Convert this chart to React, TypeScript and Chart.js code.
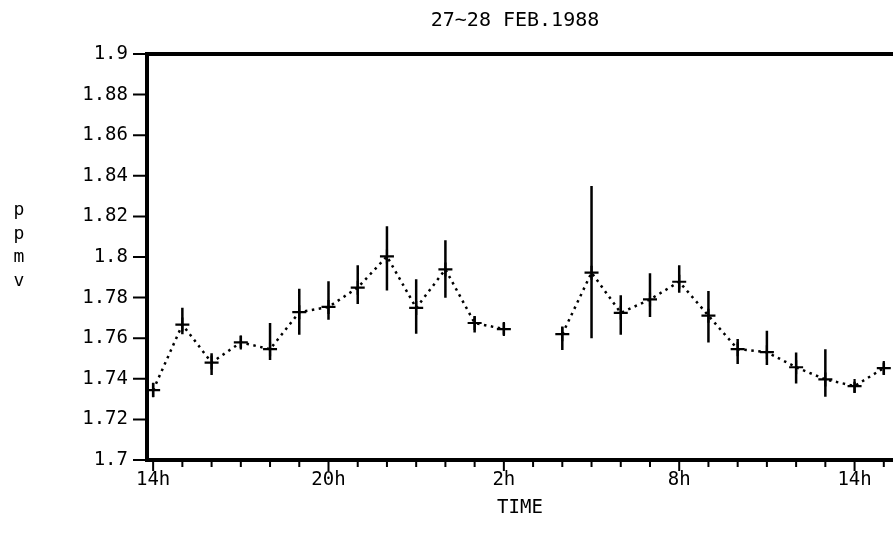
import React, { useEffect, useRef } from "react";
import { Chart, registerables } from "chart.js";

Chart.register(...registerables);

// ---- data ----
const chartTitle = "27~28 FEB.1988";
const xAxisTitle = "TIME";
const yAxisTitle = "ppmv";

// hours elapsed since 14h on 27 Feb
const hours = [0, 1, 2, 3, 4, 5, 6, 7, 8, 9, 10, 11, 12, 13, 14, 15, 16, 17, 18, 19, 20, 21, 22, 23, 24, 25];
const values: (number | null)[] = [
  1.7344, 1.7667, 1.748, 1.7579, 1.7546, 1.7728, 1.7754, 1.7849, 1.8003, 1.7749, 1.7939, 1.7675, 1.7645,
  null,
  1.762, 1.7923, 1.7725, 1.7791, 1.7878, 1.7711, 1.7546, 1.7531, 1.7457, 1.7397, 1.7364, 1.7453,
];
const barTop: (number | null)[] = [
  1.738, 1.775, 1.7526, 1.7612, 1.7675, 1.7844, 1.7881, 1.7959, 1.8151, 1.789, 1.8083, 1.7708, 1.7676,
  null,
  1.7658, 1.835, 1.7812, 1.792, 1.7959, 1.7832, 1.7596, 1.7637, 1.7529, 1.7546, 1.7385, 1.748,
];
const barBottom: (number | null)[] = [
  1.731, 1.762, 1.7419, 1.7551, 1.7493, 1.7617, 1.7691, 1.7769, 1.7835, 1.7622, 1.7799, 1.7628, 1.7617,
  null,
  1.7542, 1.76, 1.7617, 1.7705, 1.7824, 1.7579, 1.7473, 1.7468, 1.7377, 1.7311, 1.7331, 1.742,
];

const xTickHours = [0, 6, 12, 18, 24];
const xTickLabels = ["14h", "20h", "2h", "8h", "14h"];
const yTicks = [1.7, 1.72, 1.74, 1.76, 1.78, 1.8, 1.82, 1.84, 1.86, 1.88, 1.9];
const yTickLabels = ["1.7", "1.72", "1.74", "1.76", "1.78", "1.8", "1.82", "1.84", "1.86", "1.88", "1.9"];

const FONT = "'DejaVu Sans Mono', 'Liberation Mono', monospace";

const decorPlugin = {
  id: "decor",
  afterDatasetsDraw(chart: any) {
    const { ctx, scales } = chart;
    const x = scales.x;
    const y = scales.y;
    ctx.save();
    ctx.strokeStyle = "#000";
    ctx.lineWidth = 2.5;
    ctx.lineCap = "butt";
    ctx.beginPath();
    for (let i = 0; i < hours.length; i++) {
      const t = barTop[i];
      const b = barBottom[i];
      if (t == null || b == null) continue;
      const px = x.getPixelForValue(hours[i]);
      ctx.moveTo(px, y.getPixelForValue(t));
      ctx.lineTo(px, y.getPixelForValue(b));
    }
    ctx.stroke();
    ctx.restore();
  },
  afterDraw(chart: any) {
    const { ctx, chartArea: a, scales } = chart;
    const x = scales.x;
    const y = scales.y;
    ctx.save();
    ctx.strokeStyle = "#000";
    ctx.fillStyle = "#000";
    // frame (left, top, bottom)
    ctx.lineWidth = 4;
    ctx.lineJoin = "miter";
    ctx.beginPath();
    ctx.moveTo(a.right + 20, a.top);
    ctx.lineTo(a.left, a.top);
    ctx.lineTo(a.left, a.bottom);
    ctx.lineTo(a.right + 20, a.bottom);
    ctx.stroke();
    // y tick marks
    ctx.lineWidth = 2;
    ctx.beginPath();
    for (const v of yTicks) {
      const py = y.getPixelForValue(v);
      ctx.moveTo(a.left - 14, py);
      ctx.lineTo(a.left, py);
    }
    // x tick marks (every hour, longer every 6 h)
    for (const h of hours) {
      const px = x.getPixelForValue(h);
      const len = xTickHours.includes(h) ? 11 : 7;
      ctx.moveTo(px, a.bottom);
      ctx.lineTo(px, a.bottom + len);
    }
    ctx.stroke();
    // titles
    ctx.textAlign = "center";
    ctx.textBaseline = "middle";
    ctx.font = `20px ${FONT}`;
    ctx.fillText(chartTitle, 515, 21);
    ctx.font = `19px ${FONT}`;
    ctx.fillText(xAxisTitle, 520, 508);
    ctx.textBaseline = "alphabetic";
    ctx.font = `18px ${FONT}`;
    const ys = [215, 239, 262, 286];
    for (let i = 0; i < yAxisTitle.length; i++) {
      ctx.fillText(yAxisTitle[i], 19, ys[i]);
    }
    ctx.restore();
  },
};

export default function App() {
  const ref = useRef<HTMLCanvasElement | null>(null);
  useEffect(() => {
    document.body.style.margin = "0";
    if (!ref.current) return;
    const chart = new Chart(ref.current, {
      type: "line",
      data: {
        datasets: [
          {
            data: hours.map((h, i) => ({ x: h, y: values[i] as any })),
            borderColor: "#000",
            backgroundColor: "#000",
            borderWidth: 2.5,
            borderDash: [2.5, 4.5],
            pointStyle: "cross",
            pointRadius: 7,
            pointBorderWidth: 2.2,
            pointBorderColor: "#000",
            spanGaps: false,
            tension: 0,
            clip: false as any,
          },
        ],
      },
      options: {
        animation: false,
        responsive: false,
        events: [],
        layout: { padding: { top: 54, left: 0, right: 0, bottom: 0 } },
        plugins: {
          legend: { display: false },
          tooltip: { enabled: false },
          title: { display: false },
        },
        scales: {
          x: {
            type: "linear",
            min: -0.21,
            max: 25,
            afterBuildTicks: (s: any) => {
              s.ticks = xTickHours.map((v) => ({ value: v }));
            },
            afterFit: (s: any) => {
              s.height = 85;
            },
            ticks: {
              callback: (_v: any, i: number) => xTickLabels[i],
              font: { family: FONT, size: 19 },
              color: "#000",
              padding: 1,
              maxRotation: 0,
              autoSkip: false,
            },
            grid: { display: false, drawTicks: true, tickLength: 8 },
            border: { display: false },
          },
          y: {
            type: "linear",
            min: 1.7,
            max: 1.9,
            afterBuildTicks: (s: any) => {
              s.ticks = yTicks.map((v) => ({ value: v }));
            },
            afterFit: (s: any) => {
              s.width = 147;
            },
            ticks: {
              callback: (_v: any, i: number) => yTickLabels[i],
              font: { family: FONT, size: 19 },
              color: "#000",
              padding: 5,
              autoSkip: false,
            },
            grid: { display: false, drawTicks: true, tickLength: 14 },
            border: { display: false },
          },
        },
      },
      plugins: [decorPlugin],
    });
    return () => chart.destroy();
  }, []);
  return (
    <div style={{ position: "fixed", left: 0, top: 0, width: 893, height: 545, overflow: "hidden", background: "#fff" }}>
      <canvas ref={ref} width={893} height={545} style={{ display: "block" }} />
    </div>
  );
}
